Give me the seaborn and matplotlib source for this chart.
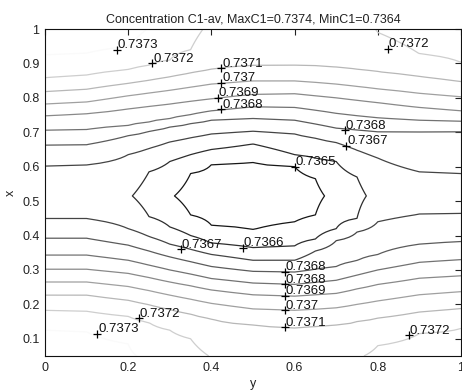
import numpy as np
import matplotlib
matplotlib.use("Agg")
import matplotlib.pyplot as plt
import seaborn as sns

# ---- data (horizontal axis "y", vertical axis "x") ----
y_cols = [0.0, 0.1, 0.2, 0.25, 0.3, 0.35, 0.4, 0.5, 0.6, 0.65, 0.7, 0.75, 0.8, 0.9, 1.0]

# contour levels (labels show 4 significant digits)
levels = [0.736486, 0.736576, 0.736666, 0.736756, 0.736846,
          0.736936, 0.737026, 0.737116, 0.737206, 0.737296]

# field value on the lower edge (x=0.05), the middle (x=0.515) and upper edge (x=1)
bottom_edge = [0.737350, 0.737341, 0.737305, 0.737283, 0.737260, 0.737233, 0.737202,
               0.737161, 0.737152, 0.737166, 0.737179, 0.737199, 0.737220, 0.737242,
               0.737251]
center_val = [0.736621, 0.736617, 0.736585, 0.736540, 0.736495, 0.736455, 0.736432,
              0.736405, 0.736423, 0.736468, 0.736509, 0.736554, 0.736603, 0.736630,
              0.736630]
top_edge = [0.737374, 0.737359, 0.737332, 0.737292, 0.737260, 0.737233, 0.737188,
            0.737152, 0.737152, 0.737166, 0.737179, 0.737193, 0.737208, 0.737251,
            0.737269]
x_center = 0.515

# x position where each level crosses each column, upper half / lower half
N = None
top_L0 = [N, N, N, N, N, 0.580, 0.606, 0.613, 0.600, 0.565, N, N, N, N, N]
top_L1 = [N, N, N, 0.585, 0.615, 0.635, 0.650, 0.666, 0.635, 0.625, 0.615, 0.570, N, N, N]
top_L2 = [0.603, 0.605, 0.635, 0.653, 0.672, 0.684, 0.695, 0.703, 0.695, 0.683, 0.670,
          0.648, 0.625, 0.585, 0.580]
top_L3 = [0.663, 0.664, 0.690, 0.703, 0.715, 0.725, 0.735, 0.740, 0.735, 0.724, 0.712,
          0.707, 0.702, 0.702, 0.703]
top_L4 = [0.706, 0.708, 0.720, 0.730, 0.740, 0.751, 0.762, 0.774, 0.772, 0.764, 0.755,
          0.748, 0.742, 0.735, 0.732]
top_L5 = [0.748, 0.754, 0.768, 0.775, 0.782, 0.790, 0.797, 0.810, 0.812, 0.806, 0.800,
          0.793, 0.786, 0.772, 0.762]
top_L6 = [0.782, 0.788, 0.806, 0.814, 0.822, 0.831, 0.840, 0.849, 0.849, 0.845, 0.840,
          0.833, 0.826, 0.813, 0.803]
top_L7 = [0.818, 0.825, 0.842, 0.851, 0.861, 0.872, 0.882, 0.893, 0.895, 0.892, 0.889,
          0.882, 0.876, 0.862, 0.847]
top_L8 = [0.858, 0.866, 0.882, 0.895, 0.910, 0.940, N, N, N, N, N, N, 0.990, 0.928, 0.903]
top_L9 = [0.925, 0.930, 0.950, N, N, N, N, N, N, N, N, N, N, N, N]

bot_L0 = [N, N, N, N, N, 0.460, 0.430, 0.417, 0.440, 0.460, N, N, N, N, N]
bot_L1 = [N, N, N, 0.455, 0.425, 0.400, 0.378, 0.365, 0.370, 0.390, 0.420, 0.450, N, N, N]
bot_L2 = [0.449, 0.449, 0.420, 0.397, 0.375, 0.360, 0.345, 0.328, 0.328, 0.355, 0.385,
          0.410, 0.440, 0.462, 0.464]
bot_L3 = [0.392, 0.392, 0.372, 0.355, 0.338, 0.324, 0.310, 0.296, 0.294, 0.302, 0.310,
          0.327, 0.345, 0.375, 0.382]
bot_L4 = [0.343, 0.343, 0.328, 0.314, 0.300, 0.288, 0.275, 0.262, 0.258, 0.264, 0.270,
          0.285, 0.300, 0.322, 0.330]
bot_L5 = [0.302, 0.302, 0.290, 0.278, 0.265, 0.254, 0.242, 0.228, 0.224, 0.228, 0.232,
          0.245, 0.258, 0.276, 0.283]
bot_L6 = [0.265, 0.265, 0.252, 0.240, 0.227, 0.215, 0.203, 0.187, 0.183, 0.186, 0.190,
          0.200, 0.210, 0.228, 0.237]
bot_L7 = [0.227, 0.227, 0.212, 0.199, 0.185, 0.172, 0.158, 0.140, 0.133, 0.136, 0.140,
          0.150, 0.160, 0.178, 0.188]
bot_L8 = [0.183, 0.180, 0.165, 0.147, 0.125, 0.100, N, N, N, N, N, N, 0.080, 0.115, 0.130]
bot_L9 = [0.125, 0.120, 0.085, N, N, N, N, N, N, N, N, N, N, N, N]

# contour labels: (y, x, text)
label_y = [0.172, 0.258, 0.824, 0.424, 0.424, 0.416, 0.424, 0.720, 0.724, 0.600,
           0.326, 0.476, 0.576, 0.576, 0.576, 0.576, 0.576, 0.226, 0.126, 0.875]
label_x = [0.939, 0.900, 0.942, 0.886, 0.844, 0.800, 0.767, 0.706, 0.661, 0.600,
           0.360, 0.365, 0.294, 0.258, 0.224, 0.183, 0.133, 0.159, 0.115, 0.110]
label_txt = ["0.7373", "0.7372", "0.7372", "0.7371", "0.737", "0.7369", "0.7368",
             "0.7368", "0.7367", "0.7365", "0.7367", "0.7366", "0.7368", "0.7368",
             "0.7369", "0.737", "0.7371", "0.7372", "0.7373", "0.7372"]

title = "Concentration C1-av, MaxC1=0.7374, MinC1=0.7364"

# ---- build the gridded field from the column profiles ----
tops = [top_L0, top_L1, top_L2, top_L3, top_L4, top_L5, top_L6, top_L7, top_L8, top_L9]
bots = [bot_L0, bot_L1, bot_L2, bot_L3, bot_L4, bot_L5, bot_L6, bot_L7, bot_L8, bot_L9]
x_grid = np.linspace(0.05, 1.0, 191)
Z = np.empty((len(x_grid), len(y_cols)))
for j in range(len(y_cols)):
    pts = [(0.05, bottom_edge[j]), (x_center, center_val[j]), (1.0, top_edge[j])]
    for k, lv in enumerate(levels):
        for arr in (tops[k], bots[k]):
            if arr[j] is not None:
                pts.append((arr[j], lv))
    pts.sort()
    xs, vs = zip(*pts)
    Z[:, j] = np.interp(x_grid, xs, vs)

# ---- plot ----
sns.set_style("white")
plt.rcParams["font.family"] = ["Liberation Sans", "DejaVu Sans"]

fig = plt.figure(figsize=(4.62, 3.90), dpi=100)
ax = fig.add_axes([45 / 462, 34 / 390, 416 / 462, 327 / 390])

norm = plt.Normalize(0.7364, 0.7374)
line_colors = [plt.cm.gray(norm(l)) for l in levels[:-1]] + ["#fafafa"]
ax.contour(y_cols, x_grid, Z, levels=levels, colors=line_colors, linewidths=0.9)

sns.scatterplot(x=label_y, y=label_x, marker="+", color="black", s=30,
                linewidth=0.9, ax=ax, legend=False, zorder=5)
for yy, xx, tt in zip(label_y, label_x, label_txt):
    ax.text(yy + 0.002, xx - 0.004, tt, fontsize=9.5, ha="left", va="bottom",
            color="#111111", zorder=6)

ax.set_xlim(0, 1)
ax.set_ylim(0.05, 1)
ax.set_xticks([0, 0.2, 0.4, 0.6, 0.8, 1.0])
ax.set_xticklabels(["0", "0.2", "0.4", "0.6", "0.8", "1"])
ax.set_yticks([0.1, 0.2, 0.3, 0.4, 0.5, 0.6, 0.7, 0.8, 0.9, 1.0])
ax.set_yticklabels(["0.1", "0.2", "0.3", "0.4", "0.5", "0.6", "0.7", "0.8", "0.9", "1"])
ax.tick_params(direction="in", top=True, right=True, length=4, width=0.8,
               labelsize=9, colors="#222222", pad=4)
for s in ax.spines.values():
    s.set_color("#111111")
    s.set_linewidth(0.8)
ax.set_xlabel("y", fontsize=9, color="#222222", labelpad=3)
ax.set_ylabel("x", fontsize=9, color="#222222", labelpad=4)
ax.set_title(title, fontsize=9, color="#222222", pad=5)

fig.savefig("out.png", dpi=100)
